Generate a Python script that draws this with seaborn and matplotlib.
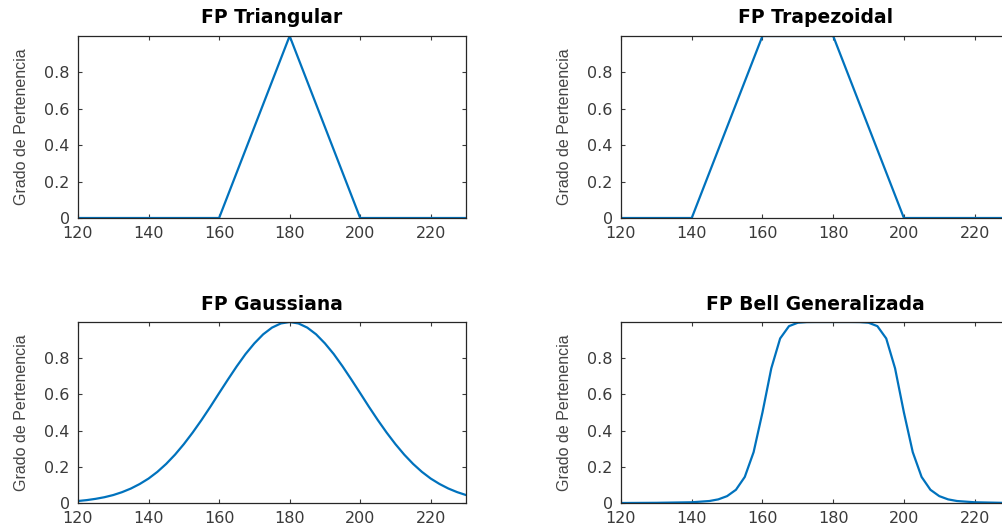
import numpy as np
import matplotlib
matplotlib.use("Agg")
import matplotlib.pyplot as plt
from matplotlib import font_manager
import seaborn as sns

sns.set_theme(style="ticks")
plt.rcParams['font.family'] = ['DejaVu Sans']

# values
tri_x = [120, 160, 180, 200, 230]
tri_y = [0, 0, 1, 0, 0]

trap_x = [120, 140, 160, 180, 200, 230]
trap_y = [0, 0, 1, 1, 0, 0]

gauss_x = [120, 122.5, 125, 127.5, 130, 132.5, 135, 137.5, 140, 142.5, 145, 147.5, 150,
           152.5, 155, 157.5, 160, 162.5, 165, 167.5, 170, 172.5, 175, 177.5, 180,
           182.5, 185, 187.5, 190, 192.5, 195, 197.5, 200, 202.5, 205, 207.5, 210,
           212.5, 215, 217.5, 220, 222.5, 225, 227.5, 230]
gauss_y = [0.011, 0.016, 0.023, 0.032, 0.044, 0.060, 0.080, 0.105, 0.135, 0.172, 0.216, 0.267, 0.325,
           0.389, 0.458, 0.531, 0.607, 0.682, 0.755, 0.823, 0.882, 0.932, 0.969, 0.992, 1.0,
           0.992, 0.969, 0.932, 0.882, 0.823, 0.755, 0.682, 0.607, 0.531, 0.458, 0.389, 0.325,
           0.267, 0.216, 0.172, 0.135, 0.105, 0.080, 0.060, 0.044]

bell_x = [120, 130, 140, 145, 147.5, 150, 152.5, 155, 157.5, 160, 162.5, 165, 167.5, 170, 172.5, 175,
          180, 185, 187.5, 190, 192.5, 195, 197.5, 200, 202.5, 205, 207.5, 210, 212.5, 215, 220, 230]
bell_y = [0.0, 0.001, 0.004, 0.011, 0.020, 0.038, 0.073, 0.144, 0.281, 0.5, 0.744, 0.909, 0.977, 0.996, 0.9996, 1.0,
          1.0, 1.0, 0.9996, 0.996, 0.977, 0.909, 0.744, 0.5, 0.281, 0.144, 0.073, 0.038, 0.020, 0.011, 0.004, 0.0]

titles = ['FP Triangular', 'FP Trapezoidal', 'FP Gaussiana', 'FP Bell Generalizada']
series = [(tri_x, tri_y), (trap_x, trap_y), (gauss_x, gauss_y), (bell_x, bell_y)]
xticks = [120, 140, 160, 180, 200, 220]
yticks = [0, 0.2, 0.4, 0.6, 0.8]
ytick_labels = ['0', '0.2', '0.4', '0.6', '0.8']
ylabel = 'Grado de Pertenencia'

# narrow font for the y label if it is there
try:
    font_manager.findfont('Liberation Sans Narrow', fallback_to_default=False)
    ylab_family, ylab_size = 'Liberation Sans Narrow', 14
except Exception:
    ylab_family, ylab_size = 'Liberation Sans', 11.5

W, H = 1003, 527
fig = plt.figure(figsize=(W / 100, H / 100), dpi=100)
# axes boxes in pixels: left, top, right, bottom
boxes = [(78, 36, 466, 218), (621, 36, 1010, 218),
         (78, 322, 466, 503), (621, 322, 1010, 503)]

for (l, t, r, b), title, (xs, ys) in zip(boxes, titles, series):
    ax = fig.add_axes([l / W, 1 - b / H, (r - l) / W, (b - t) / H])
    sns.lineplot(x=xs, y=ys, ax=ax, color='#0072BD', linewidth=1.6,
                 estimator=None, sort=False)
    ax.set_xlim(120, 230)
    ax.set_ylim(0, 1)
    ax.set_xticks(xticks)
    ax.set_yticks(yticks)
    ax.set_yticklabels(ytick_labels)
    ax.tick_params(direction='in', length=3, width=0.8, top=True, right=True,
                   labelsize=11.5, colors='#3a3a3a', pad=6)
    for s in ax.spines.values():
        s.set_color('#262626')
        s.set_linewidth(0.9)
        s.set_visible(True)
    ax.set_title(title, fontsize=13.5, fontweight='bold', color='black', pad=9)
    ax.set_ylabel(ylabel, fontsize=ylab_size, color='#444444', family=ylab_family)
    ax.yaxis.set_label_coords(-49 / (r - l), 0.5)

fig.savefig('out.png', dpi=100)
